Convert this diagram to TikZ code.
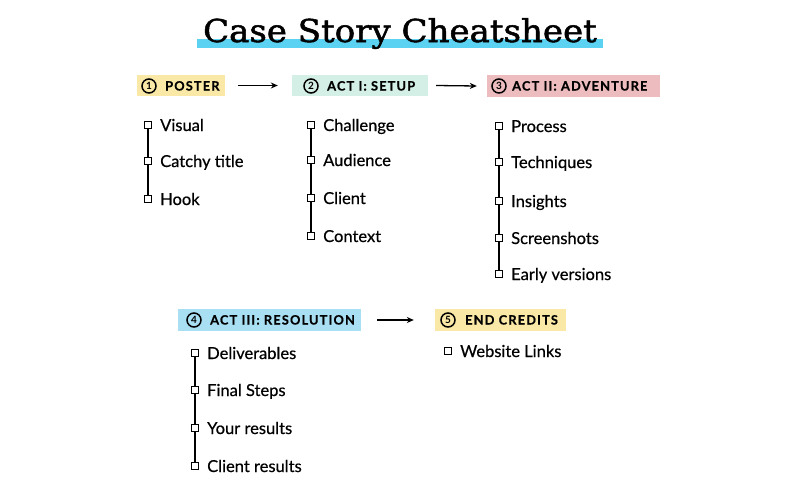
\documentclass[tikz,border=0pt]{standalone}
\usepackage{fontspec}
\setmainfont{Lato}
\newfontfamily\titlefont[FakeBold=1.6,FakeStretch=1.08]{DejaVu Serif}
\newfontfamily\headfont[LetterSpace=9,FakeBold=0.5]{Lato}
\newfontfamily\itemfont[FakeBold=0.5]{Lato}
\usetikzlibrary{backgrounds,arrows.meta}
\definecolor{cyanbar}{HTML}{5CD2F2}
\definecolor{yel}{HTML}{FAE8A6}
\definecolor{mint}{HTML}{D4EFE6}
\definecolor{pinkish}{HTML}{EDBCBE}
\definecolor{sky}{HTML}{A9DFF3}
\tikzset{
 hbox/.style={minimum height=21pt, inner sep=0pt},
 hnum/.style={circle, draw, line width=1.5pt, minimum size=14pt, inner sep=0pt, font=\fontsize{10}{10}\selectfont\bfseries},
 htext/.style={anchor=base west, inner sep=0pt, font=\headfont\fontsize{12.8}{13}\selectfont\bfseries},
 mk/.style={rectangle, draw, fill=white, line width=1.3pt, minimum size=7pt, inner sep=0pt},
 item/.style={anchor=base west, inner sep=0pt, font=\itemfont\fontsize{16.5}{18}\selectfont},
 rail/.style={line width=1.8pt},
 arr/.style={-{Stealth[length=7pt,width=6pt]}, line width=1.3pt},
}
\begin{document}
\begin{tikzpicture}[x=1pt,y=-1pt]
\useasboundingbox (0,0) rectangle (800,490);
\begin{scope}[on background layer]
\fill[white] (0,0) rectangle (800,490);
\end{scope}
% title
\fill[cyanbar] (197,39) rectangle (603,48);
\node[anchor=base, inner sep=0pt, font=\titlefont\fontsize{31.5}{34}\selectfont] (title) at (400,42) {Case Story Cheatsheet};
% headers
\node[hbox, fill=yel, minimum width=88pt] (h1) at (181,85.5) {};
\node[hbox, fill=mint, minimum width=136pt] (h2) at (360,85.5) {};
\node[hbox, fill=pinkish, minimum width=173pt, minimum height=22pt] (h3) at (573.5,86) {};
\node[hbox, fill=sky, minimum width=183pt, minimum height=22pt] (h4) at (269.5,320) {};
\node[hbox, fill=yel, minimum width=131pt, minimum height=22pt] (h5) at (500.5,320) {};
\node[hnum] (c1) at (149,86) {1};
\node[hnum] (c2) at (311,86) {2};
\node[hnum] (c3) at (499,86) {3};
\node[hnum] (c4) at (194,320) {4};
\node[hnum] (c5) at (448,320) {5};
\node[htext] (t1) at (165,90.5) {POSTER};
\node[htext] (t2) at (327,90.5) {ACT I: SETUP};
\node[htext] (t3) at (512,90.5) {ACT II: ADVENTURE};
\node[htext] (t4) at (210,324.5) {ACT III: RESOLUTION};
\node[htext] (t5) at (465,324.5) {END CREDITS};
% arrows
\draw[arr] ([xshift=13pt]h1.east) -- ([xshift=-14pt]h2.west);
\draw[arr] ([xshift=8pt]h2.east) -- ([xshift=-10pt]h3.west);
\draw[arr] ([xshift=16pt]h4.east) -- ([xshift=-21pt]h5.west);
% poster
\node[mk] (p1) at (148,125) {}; \node[item] (tp1) at (160,131) {Visual};
\node[mk] (p2) at (148,161) {}; \node[item] (tp2) at (160,167) {Catchy title};
\node[mk] (p3) at (148,199) {}; \node[item] (tp3) at (160,205) {Hook};
% setup
\node[mk] (s1) at (311,125) {}; \node[item] (ts1) at (323,131) {Challenge};
\node[mk] (s2) at (311,160) {}; \node[item] (ts2) at (323,166) {Audience};
\node[mk] (s3) at (311,198) {}; \node[item] (ts3) at (323,204) {Client};
\node[mk] (s4) at (311,236) {}; \node[item] (ts4) at (323,242) {Context};
% adventure
\node[mk] (a1) at (499,126) {}; \node[item] (ta1) at (511,132) {Process};
\node[mk] (a2) at (499,162) {}; \node[item] (ta2) at (511,168) {Techniques};
\node[mk] (a3) at (499,201) {}; \node[item] (ta3) at (511,207) {Insights};
\node[mk] (a4) at (499,238) {}; \node[item] (ta4) at (511,244) {Screenshots};
\node[mk] (a5) at (499,274) {}; \node[item] (ta5) at (511,280) {Early versions};
% resolution
\node[mk] (r1) at (195,353) {}; \node[item] (tr1) at (207,359) {Deliverables};
\node[mk] (r2) at (195,390) {}; \node[item] (tr2) at (207,396) {Final Steps};
\node[mk] (r3) at (195,428) {}; \node[item] (tr3) at (207,434) {Your results};
\node[mk] (r4) at (195,466) {}; \node[item] (tr4) at (207,472) {Client results};
% end credits
\node[mk] (e1) at (448,351) {}; \node[item] (te1) at (460,357) {Website Links};
% rails
\begin{scope}[on background layer]
\draw[rail] (p1.center) -- (p3.center);
\draw[rail] (s1.center) -- (s4.center);
\draw[rail] (a1.center) -- (a5.center);
\draw[rail] (r1.center) -- (r4.center);
\end{scope}
\end{tikzpicture}
\end{document}
